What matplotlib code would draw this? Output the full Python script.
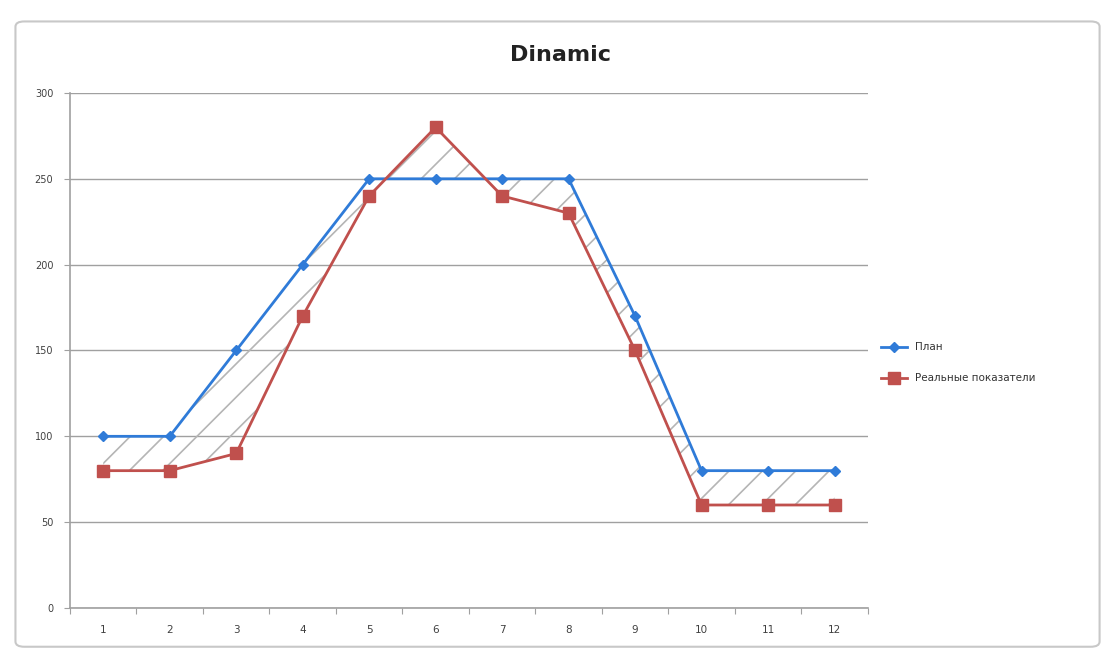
import matplotlib.pyplot as plt
from matplotlib.patches import FancyBboxPatch

# data
months = [1, 2, 3, 4, 5, 6, 7, 8, 9, 10, 11, 12]
plan = [100, 100, 150, 200, 250, 250, 250, 250, 170, 80, 80, 80]
real = [80, 80, 90, 170, 240, 280, 240, 230, 150, 60, 60, 60]

plt.rcParams['hatch.color'] = '#b5b5b5'
plt.rcParams['hatch.linewidth'] = 1.2

fig = plt.figure(figsize=(11.04, 6.5), dpi=100)

# chart border
fig.patches.append(FancyBboxPatch((0.014, 0.005), 0.982, 0.962, boxstyle='round,pad=0,rounding_size=0.008',
                                  transform=fig.transFigure, facecolor='white', edgecolor='#c8c8c8', lw=1.5,
                                  zorder=-10))

ax = fig.add_axes([0.0634, 0.0646, 0.7226, 0.7924])
ax.set_facecolor('none')

# hatched area between plan and real
ax.fill_between(months, plan, real, facecolor='none', edgecolor='#b5b5b5', hatch='/', linewidth=0)

ax.plot(months, plan, color='#2f7bd8', lw=2, marker='D', markersize=5, label='План', zorder=3)
ax.plot(months, real, color='#c0504d', lw=2, marker='s', markersize=9, label='Реальные показатели', zorder=3)

ax.set_xlim(0.5, 12.5)
ax.set_ylim(0, 300)
ax.set_yticks(range(0, 301, 50))
ax.yaxis.grid(True, color='#a0a0a0', lw=1)
ax.set_axisbelow(True)

ax.set_xticks([i + 0.5 for i in range(0, 13)])
ax.set_xticklabels([])
ax.set_xticks(months, minor=True)
ax.set_xticklabels([str(m) for m in months], minor=True)
ax.tick_params(axis='x', which='minor', length=0, pad=12, labelsize=7.5, labelcolor='#404040')
ax.tick_params(axis='x', which='major', length=4, color='#a0a0a0')
ax.tick_params(axis='y', length=4, color='#a0a0a0', labelsize=7, labelcolor='#404040', pad=8)

for s in ['top', 'right']:
    ax.spines[s].set_visible(False)
for s in ['left', 'bottom']:
    ax.spines[s].set_color('#a0a0a0')
    ax.spines[s].set_linewidth(1.2)

fig.text(0.508, 0.915, 'Dinamic', ha='center', va='center', fontsize=16, fontweight='bold', color='#222222')

ax.legend(loc='center left', bbox_to_anchor=(1.005, 0.476), frameon=False, fontsize=7.5,
          handlelength=2.5, labelspacing=2.0, labelcolor='#333333')

fig.savefig('out.png', dpi=100)
